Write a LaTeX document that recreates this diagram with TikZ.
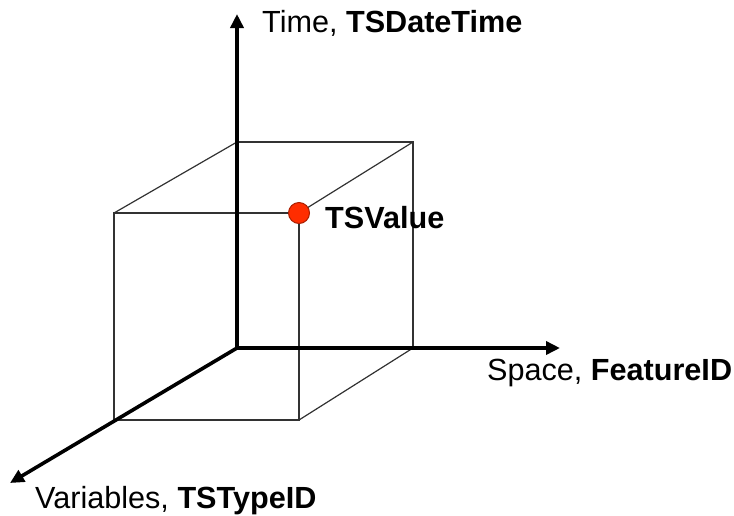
\documentclass[tikz,border=0pt]{standalone}
\usepackage{fontspec}
\setmainfont{Liberation Sans}
\usetikzlibrary{arrows.meta}
\definecolor{dotfill}{RGB}{255,45,0}
\definecolor{dotline}{RGB}{170,30,0}
\definecolor{edgecol}{RGB}{50,50,50}
\tikzset{
  axis/.style={line width=3.6pt,-{Triangle[length=14pt,width=13pt]}},
  edge/.style={line width=1.2pt,draw=edgecol},
  lbl/.style={anchor=base west,inner sep=0pt,font=\fontsize{30.6}{34}\selectfont},
  dot/.style={circle,fill=dotfill,draw=dotline,line width=1pt,minimum size=21pt,inner sep=0pt}
}
\begin{document}
\begin{tikzpicture}[x=1pt,y=-1pt]
\useasboundingbox (0,0) rectangle (734,515);
% cube corners
\coordinate (O) at (237,348);
\coordinate (BTL) at (237,142);
\coordinate (BTR) at (413,142);
\coordinate (BBR) at (413,348);
\coordinate (FTL) at (114,213);
\coordinate (FTR) at (299,213);
\coordinate (FBL) at (114,420);
\coordinate (FBR) at (299,420);
% axis ends
\coordinate (T) at (237,14);
\coordinate (S) at (560,348);
\coordinate (V) at (10,483);
% cube
\draw[edge] (FTL) -- (FTR) -- (FBR) -- (FBL) -- cycle;
\draw[edge] (BTL) -- (BTR) -- (BBR);
\draw[edge] (FTL) -- (BTL);
\draw[edge] (FTR) -- (BTR);
\draw[edge] (FBR) -- (BBR);
% axes
\draw[axis] (O) -- (T);
\draw[axis] (O) -- (S);
\draw[axis] (O) -- (V);
% value point
\node[dot] (val) at (FTR) {};
% labels
\node[lbl] (tlab) at (262,32) {Time, \textbf{TSDateTime}};
\node[lbl] (slab) at (487,380) {Space, \textbf{FeatureID}};
\node[lbl] (vlab) at (35,508) {Variables, \textbf{TSTypeID}};
\node[lbl] (vallab) at (325,228) {\textbf{TSValue}};
\end{tikzpicture}
\end{document}
